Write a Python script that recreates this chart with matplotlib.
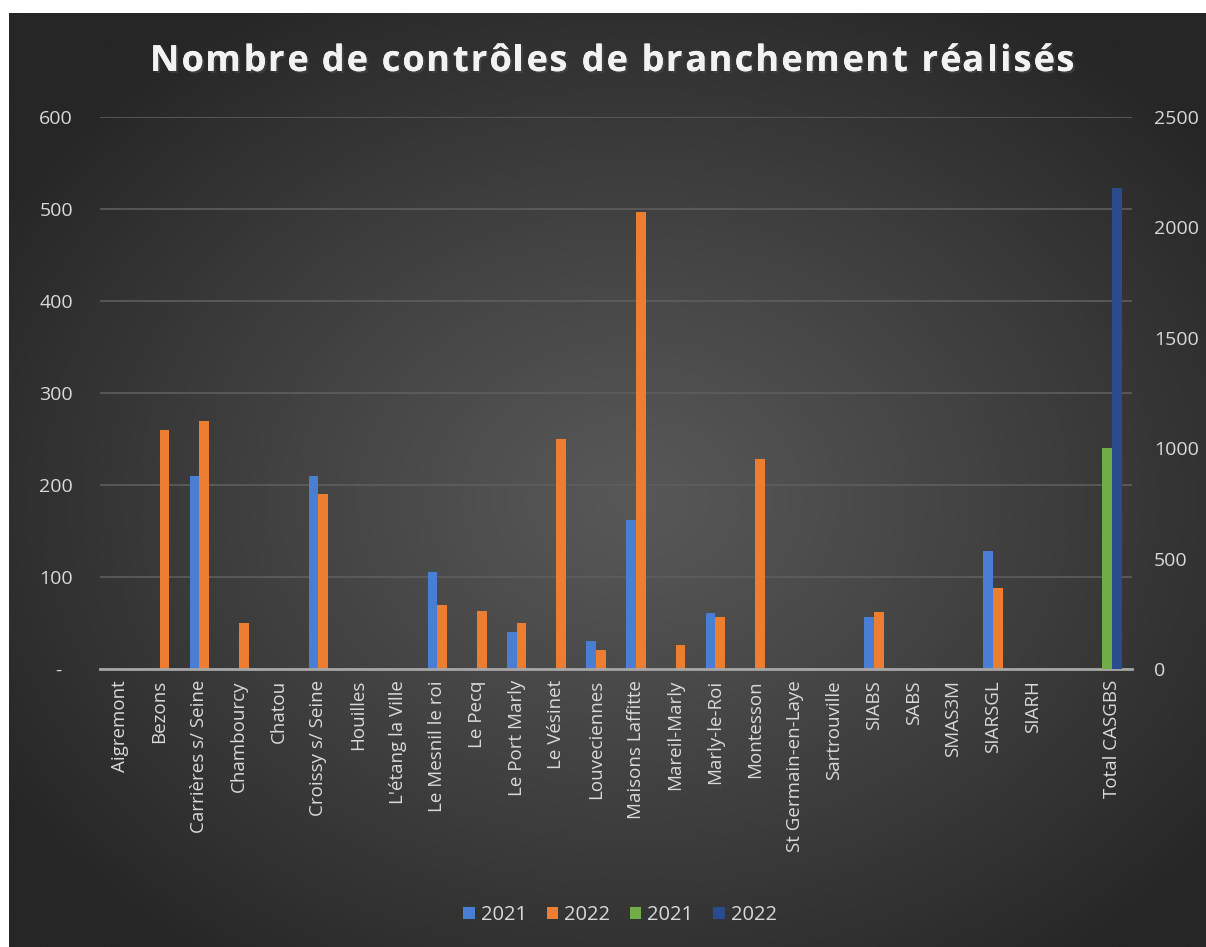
import numpy as np
import matplotlib
matplotlib.use("Agg")
import matplotlib.pyplot as plt
import matplotlib.patheffects as pe
from matplotlib.patches import Patch

# ---- data ----
categories = ["Aigremont", "Bezons", "Carrières s/ Seine", "Chambourcy", "Chatou",
              "Croissy s/ Seine", "Houilles", "L'étang la Ville", "Le Mesnil le roi",
              "Le Pecq", "Le Port Marly", "Le Vésinet", "Louveciennes", "Maisons Laffitte",
              "Mareil-Marly", "Marly-le-Roi", "Montesson", "St Germain-en-Laye",
              "Sartrouville", "SIABS", "SABS", "SMAS3M", "SIARSGL", "SIARH", "",
              "Total CASGBS"]
v2021 = [0, 0, 210, 0, 0, 210, 0, 0, 105, 0, 40, 0, 30, 162, 0, 61, 0, 0, 0, 56, 0, 0, 128, 0, 0, 0]
v2022 = [0, 260, 270, 50, 0, 190, 0, 0, 70, 63, 50, 250, 21, 497, 26, 56, 228, 0, 0, 62, 0, 0, 88, 0, 0, 0]
tot2021 = [0] * 25 + [1000]
tot2022 = [0] * 25 + [2177]
left_ticks = [0, 100, 200, 300, 400, 500, 600]
left_labels = ["-  ", "100", "200", "300", "400", "500", "600"]
right_ticks = [0, 500, 1000, 1500, 2000, 2500]
legend_labels = ["2021", "2022", "2021", "2022"]
title = "Nombre de contrôles de branchement réalisés"

W, H = 1206, 947
fig = plt.figure(figsize=(W / 100, H / 100), dpi=100, facecolor="white")

# background with radial gradient
bg = fig.add_axes([9 / W, 0, 1 - 9 / W, 1 - 13 / H])
bg.set_axis_off()
ny, nx = 300, 380
yy, xx = np.mgrid[0:ny, 0:nx]
cx, cy = nx * 0.52, ny * 0.52
r = np.sqrt(((xx - cx) / (nx * 0.62)) ** 2 + ((yy - cy) / (ny * 0.62)) ** 2)
r = np.clip(r, 0, 1)
c_in = np.array([0x58, 0x58, 0x58]) / 255
c_out = np.array([0x26, 0x26, 0x26]) / 255
img = c_in[None, None, :] * (1 - r[..., None] ** 1.1) + c_out[None, None, :] * (r[..., None] ** 1.1)
bg.imshow(img, aspect="auto", extent=[0, 1, 0, 1], interpolation="bilinear")
bg.set_xlim(0, 1)
bg.set_ylim(0, 1)

font = "Open Sans"
tc = "#d9d9d9"

ax = fig.add_axes([100 / W, (H - 669) / H, 1032 / W, 552 / H])
ax.patch.set_alpha(0)
x = np.arange(len(categories))
bw = 0.245
c_blue, c_orange, c_green, c_dblue = "#4a7dd4", "#ed7d31", "#70ad47", "#2b4c8c"
ax.bar(x - bw / 2, v2021, bw, color=c_blue, zorder=3)
ax.bar(x + bw / 2, v2022, bw, color=c_orange, zorder=3)
ax.set_xlim(-0.5, len(categories) - 0.5)
ax.set_ylim(0, 600)
ax.set_yticks(left_ticks)
ax.set_yticklabels(left_labels)
ax.yaxis.grid(True, color="#5e5e5e", linewidth=1.2, zorder=0)
ax.set_axisbelow(True)
ax.set_xticks(x)
ax.set_xticklabels(categories, rotation=90, fontfamily=font, fontsize=13.5, color=tc)
ax.tick_params(axis="x", length=0, pad=8)
ax.tick_params(axis="y", length=0, pad=19.5, labelsize=14, labelcolor=tc)
for lab in ax.get_yticklabels():
    lab.set_fontfamily(font)
for s in ["top", "right", "left"]:
    ax.spines[s].set_visible(False)
ax.spines["bottom"].set_color("#a6a6a6")
ax.spines["bottom"].set_linewidth(2)
ax.spines["bottom"].set_zorder(5)

ax2 = ax.twinx()
ax2.bar(x - bw / 2, tot2021, bw, color=c_green, zorder=3)
ax2.bar(x + bw / 2, tot2022, bw, color=c_dblue, zorder=3)
ax2.set_ylim(0, 2500)
ax2.set_yticks(right_ticks)
ax2.tick_params(axis="y", length=0, pad=16, labelsize=14, labelcolor=tc)
for lab in ax2.get_yticklabels():
    lab.set_fontfamily(font)
for s in ax2.spines.values():
    s.set_visible(False)

# title with letter spacing
renderer = fig.canvas.get_renderer()
tprops = dict(fontsize=26, fontweight="bold", fontfamily=font)
def _w(s):
    t = fig.text(0, 0, s, **tprops)
    w = t.get_window_extent(renderer).width
    t.remove()
    return w
wx = _w("x")
adv = [(_w(title[:i] + "x") - wx) if i > 0 else 0.0 for i in range(len(title))]
natural = _w(title)
target_left, target_right = 150, 1075
spacing = (target_right - target_left - natural) / (len(title) - 1)
for i, ch in enumerate(title):
    if ch == " ":
        continue
    px = target_left + adv[i] + i * spacing
    fig.text(px / W, 1 - 62 / H, ch, ha="left", va="center", color="#f2f2f2",
             path_effects=[pe.withSimplePatchShadow(offset=(1.5, -1.5), alpha=0.6), pe.Normal()],
             **tprops)

handles = [Patch(facecolor=c, edgecolor="none") for c in [c_blue, c_orange, c_green, c_dblue]]
leg = fig.legend(handles, legend_labels, loc="center", bbox_to_anchor=(620 / W, 1 - 915 / H),
                 ncol=4, frameon=False, handlelength=0.55, handleheight=0.55, handletextpad=0.3,
                 columnspacing=1.0, prop={"family": font, "size": 14.5})
for t in leg.get_texts():
    t.set_color(tc)

fig.savefig("out.png", dpi=100, facecolor=fig.get_facecolor())
